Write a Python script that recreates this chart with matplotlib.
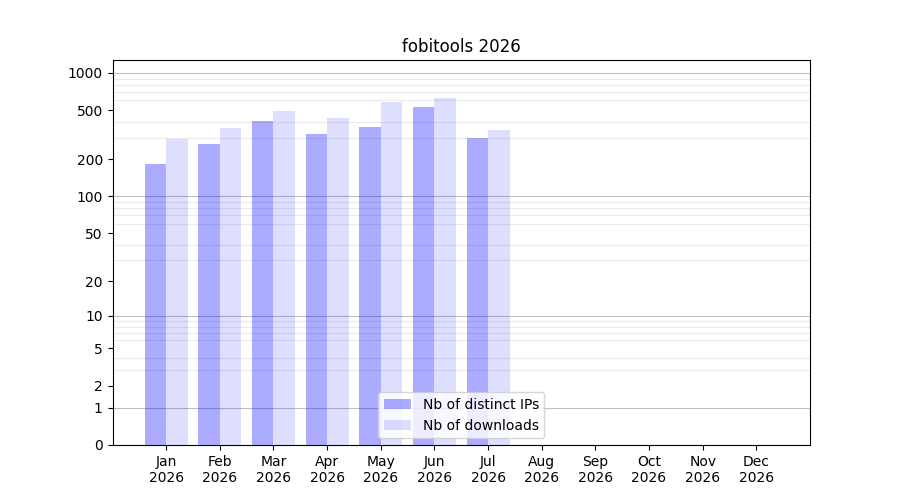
import numpy as np
import matplotlib
matplotlib.use("Agg")
import matplotlib.pyplot as plt

month_labels = ["Jan\n2026", "Feb\n2026", "Mar\n2026", "Apr\n2026", "May\n2026", "Jun\n2026",
                "Jul\n2026", "Aug\n2026", "Sep\n2026", "Oct\n2026", "Nov\n2026", "Dec\n2026"]
distinct_ips = [185, 268, 411, 323, 368, 534, 300]
downloads = [294, 361, 496, 435, 586, 631, 348]
ytick_values = [0, 1, 2, 5, 10, 20, 50, 100, 200, 500, 1000]
title = "fobitools 2026"

x = np.arange(len(month_labels))
n = len(distinct_ips)

fig, ax = plt.subplots(figsize=(9, 5), dpi=100)

def fwd(v):
    return np.log10(1 + np.clip(v, 0, None))

def inv(v):
    return 10 ** v - 1

ax.set_yscale("function", functions=(fwd, inv))

w = 0.4
ax.bar(x[:n], distinct_ips, width=-w, align="edge", color="blue", alpha=0.33,
       label="Nb of distinct IPs")
ax.bar(x[:n], downloads, width=w, align="edge", color="blue", alpha=0.13,
       label="Nb of downloads")

ax.set_xlim(-1, len(month_labels))
ax.set_ylim(0, 1270)

ax.set_xticks(x)
ax.set_xticklabels(month_labels)

ax.set_yticks(ytick_values)
ax.set_yticklabels([str(v) for v in ytick_values])
minor = [m * 10 ** k for k in range(0, 4) for m in range(1, 10) if m * 10 ** k <= 1270]
ax.set_yticks(minor, minor=True)
ax.tick_params(axis="y", which="minor", length=0)
ax.grid(True, axis="y", which="minor", color="#ebebeb", linewidth=0.8)
for v in [1, 10, 100, 1000]:
    ax.axhline(v, color="#c0c0c0", linewidth=0.8, zorder=0.5)
ax.set_axisbelow(True)

ax.set_title(title)
ax.legend(loc="lower center")

fig.savefig("out.png", dpi=100)
